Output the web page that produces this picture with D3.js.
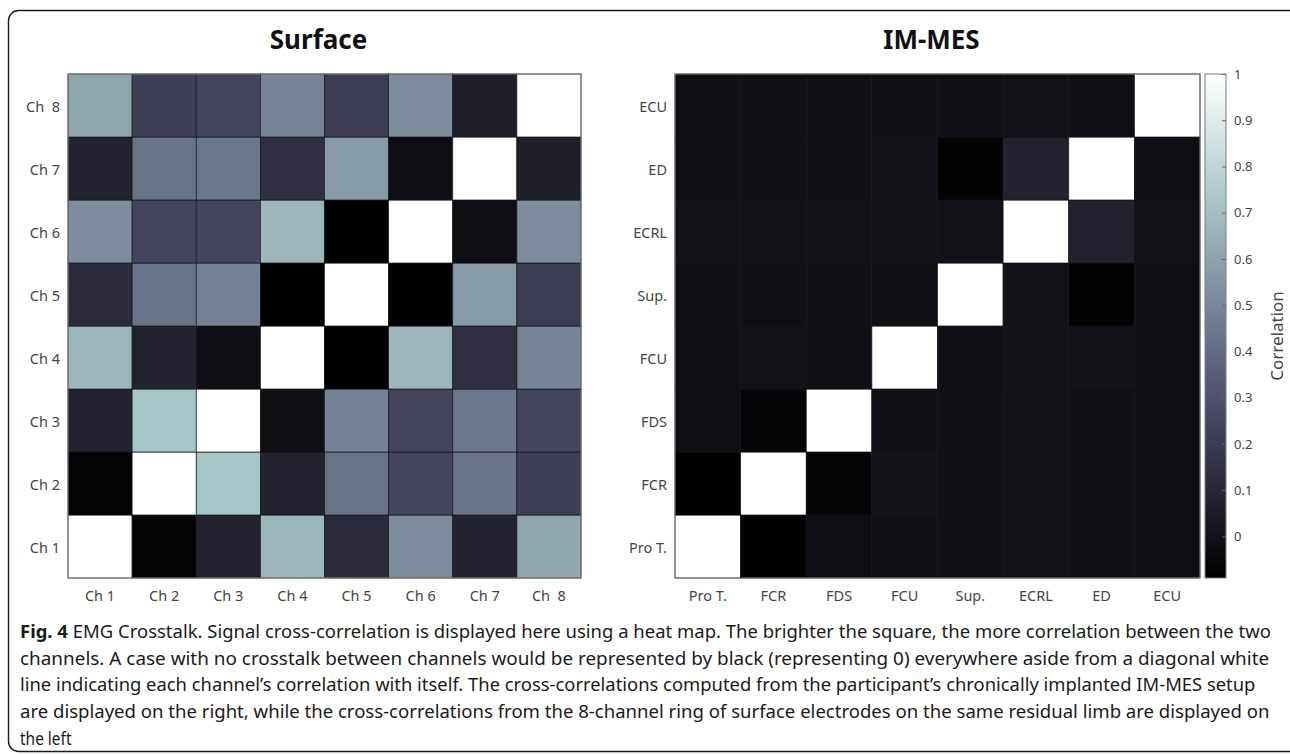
<!DOCTYPE html>
<html>
<head>
<meta charset="utf-8">
<script src="https://cdn.jsdelivr.net/npm/d3@7"></script>
<style>
  body { margin: 0; background: #fff; }
  svg { display: block; }
</style>
</head>
<body>
<svg id="fig" width="1290" height="755"></svg>
<script>
// Channel / muscle names (row i and column i refer to the same channel)
const surfaceChannels = ["Ch 1", "Ch 2", "Ch 3", "Ch 4", "Ch 5", "Ch 6", "Ch 7", "Ch  8"];
const imMesChannels = ["Pro T.", "FCR", "FDS", "FCU", "Sup.", "ECRL", "ED", "ECU"];

// Cross-correlation, surface electrode ring (row = channel, column = channel)
const surfaceCorr = [
  [1.00, -0.07, 0.08, 0.67, 0.12, 0.52, 0.08, 0.61],
  [-0.07, 1.00, 0.72, 0.08, 0.43, 0.24, 0.43, 0.22],
  [0.08, 0.72, 1.00, -0.015, 0.48, 0.24, 0.44, 0.24],
  [0.67, 0.08, -0.015, 1.00, -0.09, 0.67, 0.14, 0.49],
  [0.12, 0.43, 0.48, -0.09, 1.00, -0.09, 0.57, 0.20],
  [0.52, 0.24, 0.24, 0.67, -0.09, 1.00, -0.02, 0.52],
  [0.08, 0.43, 0.44, 0.14, 0.57, -0.02, 1.00, 0.06],
  [0.61, 0.22, 0.24, 0.49, 0.20, 0.52, 0.06, 1.00]
];

// Cross-correlation, implanted IM-MES electrodes
const imMesCorr = [
  [1.00, -0.09, -0.02, -0.017, -0.017, -0.006, -0.017, -0.017],
  [-0.09, 1.00, -0.066, 0.000, -0.017, -0.006, -0.017, -0.017],
  [-0.02, -0.066, 1.00, -0.017, -0.017, -0.006, -0.015, -0.017],
  [-0.017, 0.000, -0.017, 1.00, -0.017, -0.003, 0.000, -0.015],
  [-0.017, -0.017, -0.017, -0.017, 1.00, -0.002, -0.075, -0.017],
  [-0.006, -0.006, -0.006, -0.003, -0.002, 1.00, 0.08, -0.012],
  [-0.017, -0.017, -0.015, 0.000, -0.075, 0.08, 1.00, -0.015],
  [-0.017, -0.017, -0.017, -0.015, -0.017, -0.012, -0.015, 1.00]
];

const colorbarTicks = [0, 0.1, 0.2, 0.3, 0.4, 0.5, 0.6, 0.7, 0.8, 0.9, 1];

const captionLines = [
  [["Fig. 4", true], [" EMG Crosstalk. Signal cross-correlation is displayed here using a heat map. The brighter the square, the more correlation between the two", false]],
  [["channels. A case with no crosstalk between channels would be represented by black (representing 0) everywhere aside from a diagonal white", false]],
  [["line indicating each channel\u2019s correlation with itself. The cross-correlations computed from the participant\u2019s chronically implanted IM-MES setup", false]],
  [["are displayed on the right, while the cross-correlations from the 8-channel ring of surface electrodes on the same residual limb are displayed on", false]],
  [["the left", false]]
];
const captionWidths = [1252, 1250, 1236, 1251, null];

// "bone" colour map: grey ramp tinted blue in the dark half
function bone(t) {
  t = Math.max(0, Math.min(1, t));
  const clamp = v => Math.max(0, Math.min(1, v));
  const hr = clamp(t * 8 / 3), hg = clamp((t - 3 / 8) * 8 / 3), hb = clamp((t - 3 / 4) * 4);
  const r = (7 * t + hb) / 8, g = (7 * t + hg) / 8, b = (7 * t + hr) / 8;
  return d3.rgb(r * 255, g * 255, b * 255).formatHex();
}

const cMin = d3.min(imMesCorr.flat());
const color = d3.scaleSequential(bone).domain([cMin, 1]);

const svg = d3.select("#fig");
const FONT = "'Noto Sans', 'Open Sans', sans-serif";

// frame around the figure
svg.append("rect")
  .attr("x", 8.5).attr("y", 10.5).attr("width", 1300).attr("height", 741)
  .attr("rx", 10).attr("ry", 10)
  .attr("fill", "none").attr("stroke", "#1a1a1a").attr("stroke-width", 1.4);

const plotTop = 74, plotBottom = 578;

function heatmap(labels, matrix, x0, x1, title) {
  const x = d3.scaleBand().domain(labels).range([x0, x1]);
  const y = d3.scaleBand().domain(labels.slice().reverse()).range([plotTop, plotBottom]);
  const g = svg.append("g");

  const cells = [];
  matrix.forEach((row, i) => row.forEach((v, j) => cells.push({ r: labels[i], c: labels[j], v })));

  g.selectAll("rect.cell").data(cells).join("rect")
    .attr("class", "cell")
    .attr("x", d => x(d.c)).attr("y", d => y(d.r))
    .attr("width", x.bandwidth()).attr("height", y.bandwidth())
    .attr("fill", d => color(d.v))
    .attr("stroke", "#161616").attr("stroke-width", 0.7);

  g.append("rect")
    .attr("x", x0).attr("y", plotTop).attr("width", x1 - x0).attr("height", plotBottom - plotTop)
    .attr("fill", "none").attr("stroke", "#7d7d7d").attr("stroke-width", 1.1);

  g.selectAll("text.ylab").data(labels).join("text")
    .attr("class", "ylab")
    .attr("x", x0 - 8).attr("y", d => y(d) + y.bandwidth() / 2)
    .attr("text-anchor", "end").attr("dominant-baseline", "central")
    .style("white-space", "pre")
    .attr("font-family", FONT).attr("font-size", 14.5).attr("fill", "#454545")
    .text(d => d);

  g.selectAll("text.xlab").data(labels).join("text")
    .attr("class", "xlab")
    .attr("x", d => x(d) + x.bandwidth() / 2).attr("y", plotBottom + 17)
    .attr("text-anchor", "middle").attr("dominant-baseline", "central")
    .style("white-space", "pre")
    .attr("font-family", FONT).attr("font-size", 14.5).attr("fill", "#454545")
    .text(d => d);

  g.append("text")
    .attr("x", (x0 + x1) / 2 - 6).attr("y", 39)
    .attr("text-anchor", "middle").attr("dominant-baseline", "central")
    .attr("font-family", FONT).attr("font-weight", "bold").attr("font-size", 26).attr("fill", "#111")
    .text(title);
}

heatmap(surfaceChannels, surfaceCorr, 68, 581, "Surface");
heatmap(imMesChannels, imMesCorr, 675, 1200, "IM-MES");

// colour bar
const cbX = 1205, cbW = 21;
const cbScale = d3.scaleLinear().domain([cMin, 1]).range([plotBottom, plotTop]);
const grad = svg.append("defs").append("linearGradient")
  .attr("id", "cbGrad").attr("x1", 0).attr("y1", 1).attr("x2", 0).attr("y2", 0);
d3.range(0, 1.0001, 1 / 64).forEach(t => {
  grad.append("stop").attr("offset", t).attr("stop-color", bone(t));
});
svg.append("rect")
  .attr("x", cbX).attr("y", plotTop).attr("width", cbW).attr("height", plotBottom - plotTop)
  .attr("fill", "url(#cbGrad)").attr("stroke", "#7d7d7d").attr("stroke-width", 1);

const cbAxis = d3.axisRight(cbScale).tickValues(colorbarTicks).tickSize(-4).tickPadding(8)
  .tickFormat(d => d3.format("")(+d.toFixed(1)));
const cbG = svg.append("g").attr("transform", `translate(${cbX + cbW},0)`).call(cbAxis);
cbG.select(".domain").remove();
cbG.selectAll(".tick line").attr("stroke", "#666");
cbG.selectAll(".tick text")
  .attr("font-family", FONT).attr("font-size", 13).attr("fill", "#444");

svg.append("text")
  .attr("transform", `translate(1276, ${(plotTop + plotBottom) / 2 + 10}) rotate(-90)`)
  .attr("text-anchor", "middle").attr("dominant-baseline", "central")
  .attr("font-family", FONT).attr("font-size", 17).attr("fill", "#444")
  .text("Correlation");

// caption
const capY = [631, 657.5, 684, 710.5, 737];
captionLines.forEach((parts, i) => {
  const t = svg.append("text")
    .attr("x", 0).attr("y", 0)
    .attr("dominant-baseline", "central")
    .attr("font-family", FONT).attr("font-size", 18).attr("fill", "#1a1a1a");
  parts.forEach(([s, bold]) => {
    t.append("tspan").attr("font-weight", bold ? "bold" : "normal").text(s);
  });
  const w = t.node().getComputedTextLength();
  const sx = captionWidths[i] ? captionWidths[i] / w : 0.86;
  t.attr("transform", `translate(20, ${capY[i]}) scale(${sx}, 1)`);
});
</script>
</body>
</html>
